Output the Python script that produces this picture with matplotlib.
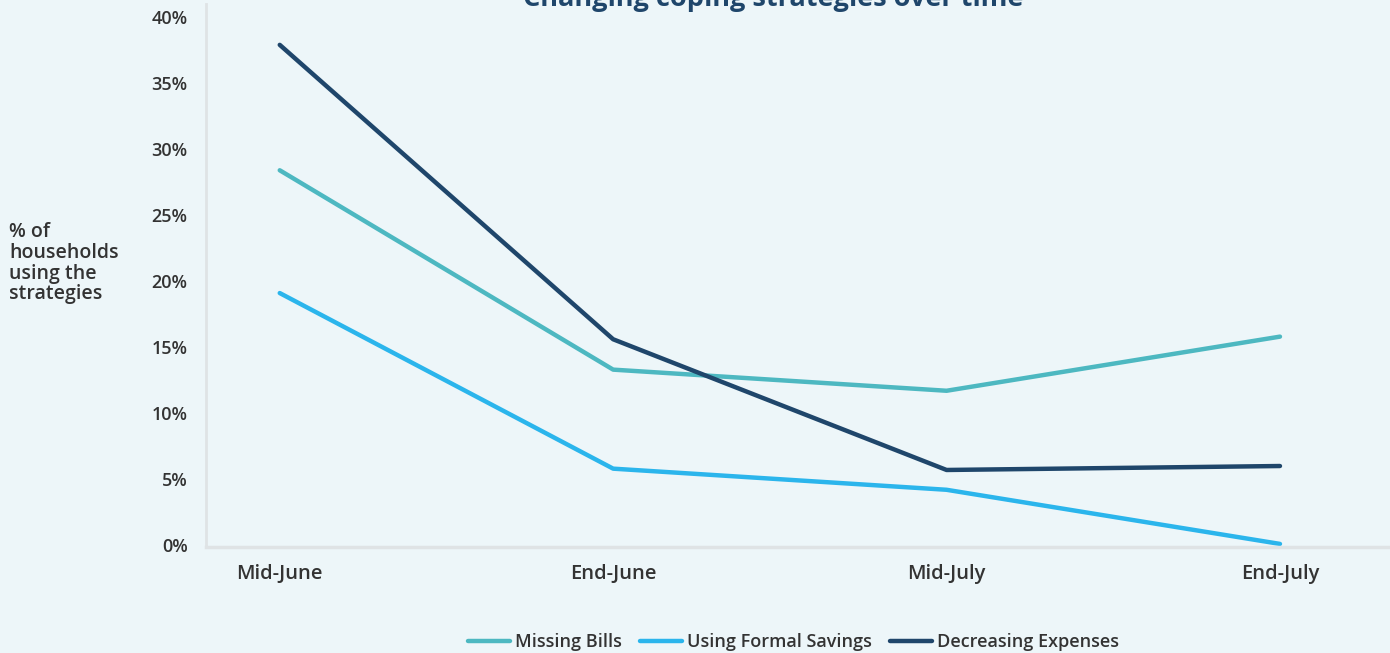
import matplotlib
matplotlib.use("Agg")
import matplotlib.pyplot as plt
from matplotlib.ticker import FuncFormatter

# data
periods = ["Mid-June", "End-June", "Mid-July", "End-July"]
missing_bills = [28.4, 13.3, 11.7, 15.8]
formal_savings = [19.1, 5.8, 4.2, 0.1]
decreasing_expenses = [37.9, 15.6, 5.7, 6.0]

bg = "#edf6f9"
text_col = "#333333"

plt.rcParams["font.family"] = ["Open Sans", "DejaVu Sans"]

fig = plt.figure(figsize=(13.9, 6.53), dpi=100, facecolor=bg)
ax = fig.add_axes([0.148, 0.162, 0.852, 0.832], facecolor=bg)

x = range(len(periods))
ax.plot(x, missing_bills, color="#4db8c1", lw=3.2, solid_capstyle="round",
        solid_joinstyle="round", label="Missing Bills")
ax.plot(x, formal_savings, color="#2bb5ec", lw=3.2, solid_capstyle="round",
        solid_joinstyle="round", label="Using Formal Savings")
ax.plot(x, decreasing_expenses, color="#1f466b", lw=3.2, solid_capstyle="round",
        solid_joinstyle="round", label="Decreasing Expenses")

ax.set_xlim(-0.222, 3.33)
ax.set_ylim(-0.15, 41)
ax.set_yticks(range(0, 41, 5))
ax.yaxis.set_major_formatter(FuncFormatter(lambda v, p: "%d%%" % v))
ax.set_xticks(list(x))
ax.set_xticklabels(periods)

for s in ["top", "right"]:
    ax.spines[s].set_visible(False)
ax.spines["left"].set_color("#dfe3e5")
ax.spines["left"].set_linewidth(2)
ax.spines["bottom"].set_color("#dfe3e5")
ax.spines["bottom"].set_linewidth(2.5)
ax.tick_params(length=0)
ax.tick_params(axis="y", pad=13, labelsize=13, labelcolor=text_col)
ax.tick_params(axis="x", pad=12, labelsize=14.5, labelcolor=text_col)
for lab in ax.get_xticklabels() + ax.get_yticklabels():
    lab.set_fontweight("semibold")

fig.text(0.0065, 0.597, "% of\nhouseholds\nusing the\nstrategies", ha="left",
         va="center", fontsize=14, fontweight="semibold", color=text_col,
         linespacing=1.05)

fig.text(0.556, 0.982, "Changing coping strategies over time", ha="center",
         va="bottom", fontsize=19.5, fontweight="bold", color="#1f466b")

leg = fig.legend(loc="lower center", bbox_to_anchor=(0.571, -0.022), ncol=3,
                 frameon=False, fontsize=13, handlelength=2.3,
                 handletextpad=0.3, columnspacing=1.0)
for t in leg.get_texts():
    t.set_fontweight("semibold")
    t.set_color(text_col)

fig.savefig("out.png", dpi=100, facecolor=bg)
